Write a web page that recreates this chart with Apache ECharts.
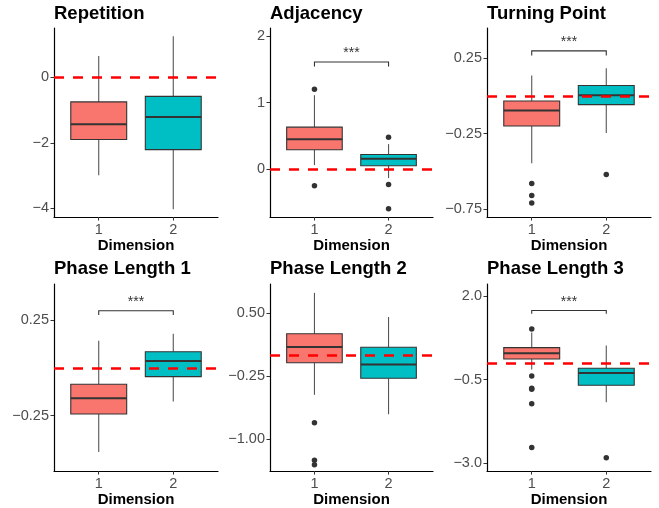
<!DOCTYPE html>
<html>
<head>
<meta charset="utf-8">
<script src="https://cdn.jsdelivr.net/npm/echarts@6/dist/echarts.min.js"></script>
<style>
html,body{margin:0;padding:0;background:#fff;}
#chart{width:659px;height:508px;}
</style>
</head>
<body>
<div id="chart"></div>
<script>
// ---------- data ----------
const categories = ['1', '2'];
const panelTitles = ['Repetition', 'Adjacency', 'Turning Point', 'Phase Length 1', 'Phase Length 2', 'Phase Length 3'];
const xAxisTitle = 'Dimension';

// box stats: [lowerWhisker, Q1, median, Q3, upperWhisker] for dimension 1 and 2
const repetitionBoxes   = [[-2.99, -1.90, -1.43, -0.75, 0.65], [-4.03, -2.21, -1.21, -0.58, 1.26]];
const adjacencyBoxes    = [[0.06, 0.29, 0.45, 0.63, 1.11], [-0.135, 0.05, 0.155, 0.22, 0.375]];
const turningBoxes      = [[-0.446, -0.199, -0.095, -0.033, 0.137], [-0.246, -0.057, 0.005, 0.07, 0.185]];
const phase1Boxes       = [[-0.44, -0.241, -0.158, -0.085, 0.143], [-0.175, -0.045, 0.037, 0.085, 0.18]];
const phase2Boxes       = [[-0.47, -0.09, 0.098, 0.254, 0.74], [-0.70, -0.274, -0.11, 0.094, 0.453]];
const phase3Boxes       = [[-0.20, 0.115, 0.29, 0.46, 0.91], [-1.18, -0.67, -0.30, -0.16, 0.52]];

// outliers for dimension 1 and 2
const repetitionOutliers = [[], []];
const adjacencyOutliers  = [[1.20, -0.25], [0.477, -0.23, -0.597]];
const turningOutliers    = [[-0.58, -0.66, -0.71], [-0.52]];
const phase1Outliers     = [[], []];
const phase2Outliers     = [[-0.80, -1.245, -1.30], []];
const phase3Outliers     = [[1.02, -0.39, -0.76, -0.79, -1.23, -2.54], [-2.85]];

// y tick values and labels
const repetitionTicks = [-4, -2, 0];          const repetitionTickLabels = ['\u22124', '\u22122', '0'];
const adjacencyTicks  = [0, 1, 2];            const adjacencyTickLabels  = ['0', '1', '2'];
const turningTicks    = [-0.75, -0.25, 0.25]; const turningTickLabels    = ['\u22120.75', '\u22120.25', '0.25'];
const phase1Ticks     = [-0.25, 0.25];        const phase1TickLabels     = ['\u22120.25', '0.25'];
const phase2Ticks     = [-1.00, -0.25, 0.50]; const phase2TickLabels     = ['\u22121.00', '\u22120.25', '0.50'];
const phase3Ticks     = [-3.0, -0.5, 2.0];    const phase3TickLabels     = ['\u22123.0', '\u22120.5', '2.0'];

// y axis limits
const yLimits = [[-4.27, 1.51], [-0.72, 2.12], [-0.803, 0.452], [-0.54, 0.44], [-1.375, 0.845], [-3.25, 2.37]];

// reference line
const referenceValue = [0, 0, 0, 0, 0, 0];

// significance brackets: [top, lowerEnd] or null
const sigBrackets = [null, [1.61, 1.54], [0.30, 0.27], [0.30, 0.278], null, [1.576, 1.48]];
const sigLabel = '***';

// ---------- layout / style ----------
const gridsPx = [
  {left: 54, top: 28, width: 164, height: 189},
  {left: 270, top: 28, width: 163, height: 189},
  {left: 487, top: 28, width: 164, height: 189},
  {left: 54, top: 284, width: 164, height: 189},
  {left: 270, top: 284, width: 163, height: 189},
  {left: 487, top: 284, width: 164, height: 189}
];
const titleTops = [4, 4, 4, 259, 259, 259];
const fillColors = ['#F8766D', '#00BFC4'];
const FONT = '"Liberation Sans", Arial, sans-serif';

const boxesAll = [repetitionBoxes, adjacencyBoxes, turningBoxes, phase1Boxes, phase2Boxes, phase3Boxes];
const outliersAll = [repetitionOutliers, adjacencyOutliers, turningOutliers, phase1Outliers, phase2Outliers, phase3Outliers];
const ticksAll = [repetitionTicks, adjacencyTicks, turningTicks, phase1Ticks, phase2Ticks, phase3Ticks];
const tickLabelsAll = [repetitionTickLabels, adjacencyTickLabels, turningTickLabels, phase1TickLabels, phase2TickLabels, phase3TickLabels];

const catValues = categories.map(c => Number(c));

const grid = [], xAxis = [], yAxis = [], series = [], title = [];

for (let i = 0; i < 6; i++) {
  grid.push(Object.assign({containLabel: false}, gridsPx[i]));
  title.push({
    text: panelTitles[i],
    left: gridsPx[i].left,
    top: titleTops[i],
    padding: 0,
    textStyle: {fontFamily: FONT, fontSize: 18.5, fontWeight: 'bold', color: '#000'}
  });
  xAxis.push({
    type: 'value', gridIndex: i, min: 0.4, max: 2.6,
    name: xAxisTitle, nameLocation: 'middle', nameGap: 19,
    nameTextStyle: {fontFamily: FONT, fontSize: 15, fontWeight: 'bold', color: '#000'},
    axisLine: {show: true, onZero: false, lineStyle: {color: '#000', width: 1.2}},
    axisTick: {show: true, length: 3.5, lineStyle: {color: '#333', width: 1}, customValues: catValues},
    axisLabel: {show: true, margin: 5, fontFamily: FONT, fontSize: 14.5, color: '#4D4D4D',
      customValues: catValues, formatter: v => categories[catValues.indexOf(v)] ?? ''},
    splitLine: {show: false}
  });
  const ticks = ticksAll[i], labels = tickLabelsAll[i];
  yAxis.push({
    type: 'value', gridIndex: i, min: yLimits[i][0], max: yLimits[i][1],
    axisLine: {show: true, onZero: false, lineStyle: {color: '#000', width: 1.2}},
    axisTick: {show: true, length: 3.5, lineStyle: {color: '#333', width: 1}, customValues: ticks},
    axisLabel: {show: true, margin: 5, fontFamily: FONT, fontSize: 14.5, color: '#4D4D4D',
      customValues: ticks,
      formatter: v => {
        for (let k = 0; k < ticks.length; k++) if (Math.abs(ticks[k] - v) < 1e-9) return labels[k];
        return '';
      }},
    splitLine: {show: false}
  });

  // boxes
  const boxData = boxesAll[i].map((b, k) => [catValues[k]].concat(b));
  series.push({
    type: 'custom', xAxisIndex: i, yAxisIndex: i, data: boxData, z: 2,
    renderItem: (params, api) => {
      const x = api.value(0);
      const lo = api.coord([x, api.value(1)]);
      const q1 = api.coord([x, api.value(2)]);
      const md = api.coord([x, api.value(3)]);
      const q3 = api.coord([x, api.value(4)]);
      const hi = api.coord([x, api.value(5)]);
      const hw = api.size([0.75, 0])[0] / 2;
      const col = fillColors[params.dataIndex];
      return {
        type: 'group',
        children: [
          {type: 'line', shape: {x1: hi[0], y1: hi[1], x2: q3[0], y2: q3[1]}, style: {stroke: '#555', lineWidth: 1.1}},
          {type: 'line', shape: {x1: q1[0], y1: q1[1], x2: lo[0], y2: lo[1]}, style: {stroke: '#555', lineWidth: 1.1}},
          {type: 'rect', shape: {x: q3[0] - hw, y: q3[1], width: 2 * hw, height: q1[1] - q3[1]},
            style: {fill: col, stroke: '#333', lineWidth: 1.1}},
          {type: 'line', shape: {x1: md[0] - hw, y1: md[1], x2: md[0] + hw, y2: md[1]}, style: {stroke: '#333', lineWidth: 2}}
        ]
      };
    }
  });

  // outliers
  const outData = [];
  outliersAll[i].forEach((arr, k) => arr.forEach(v => outData.push([catValues[k], v])));
  series.push({
    type: 'scatter', xAxisIndex: i, yAxisIndex: i, data: outData, z: 3,
    symbol: 'circle', symbolSize: 5.5, itemStyle: {color: '#333', opacity: 1}, silent: true
  });

  // reference dashed line
  series.push({
    type: 'line', xAxisIndex: i, yAxisIndex: i, data: [], z: 4,
    markLine: {
      silent: true, symbol: ['none', 'none'], label: {show: false},
      lineStyle: {color: '#FF0000', width: 2.6, type: [10, 9]},
      data: [{yAxis: referenceValue[i]}],
      animation: false
    }
  });

  // significance bracket
  if (sigBrackets[i]) {
    series.push({
      type: 'custom', xAxisIndex: i, yAxisIndex: i, z: 5,
      data: [[catValues[0], catValues[1], sigBrackets[i][0], sigBrackets[i][1]]],
      renderItem: (params, api) => {
        const a = api.coord([api.value(0), api.value(3)]);
        const b = api.coord([api.value(0), api.value(2)]);
        const c = api.coord([api.value(1), api.value(2)]);
        const d = api.coord([api.value(1), api.value(3)]);
        return {
          type: 'group',
          children: [
            {type: 'polyline', shape: {points: [a, b, c, d]}, style: {stroke: '#333', lineWidth: 1.1, fill: null}},
            {type: 'text', x: (b[0] + c[0]) / 2, y: b[1] - 8.5,
              style: {text: sigLabel, fontFamily: FONT, fontSize: 14, fill: '#333', align: 'center', verticalAlign: 'middle'}}
          ]
        };
      }
    });
  }
}

const chart = echarts.init(document.getElementById('chart'), null, {renderer: 'canvas'});
chart.setOption({animation: false, backgroundColor: '#fff', title, grid, xAxis, yAxis, series});
</script>
</body>
</html>
